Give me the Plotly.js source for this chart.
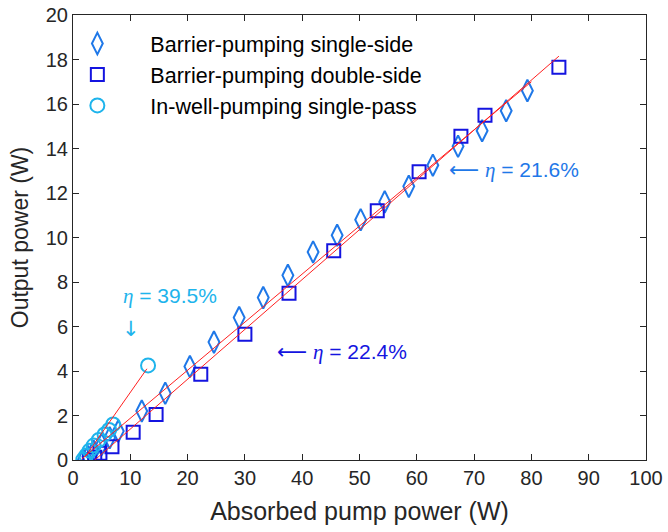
<!DOCTYPE html>
<html>
<head>
<meta charset="utf-8">
<script src="https://cdn.plot.ly/plotly-3.0.1.min.js"></script>
<style>html,body{margin:0;padding:0;background:#fff;}#chart{width:668px;height:532px;}</style>
</head>
<body>
<div id="chart"></div>
<script>
// Barrier-pumping single-side (diamonds)
const singleX = [1.8, 2.6, 3.6, 5.0, 6.4, 7.9, 12.0, 16.1, 20.4, 24.6, 29.0, 33.2, 37.5, 41.9, 46.1, 50.2, 54.4, 58.6, 62.8, 67.2, 71.4, 75.6, 79.3];
const singleY = [0.0, 0.15, 0.4, 0.7, 1.0, 1.3, 2.2, 3.0, 4.2, 5.3, 6.4, 7.3, 8.3, 9.35, 10.1, 10.8, 11.6, 12.3, 13.25, 14.1, 14.8, 15.7, 16.6];
// Barrier-pumping double-side (squares)
const doubleX = [2.9, 3.8, 4.7, 6.8, 10.5, 14.5, 22.3, 30.0, 37.7, 45.5, 53.1, 60.4, 67.7, 71.9, 84.8];
const doubleY = [0.02, 0.12, 0.3, 0.6, 1.25, 2.05, 3.85, 5.65, 7.5, 9.4, 11.2, 12.95, 14.55, 15.5, 17.65];
// In-well-pumping single-pass (circles)
const inwellX = [1.8, 2.3, 2.9, 3.6, 4.5, 5.5, 6.3, 7.0, 13.1];
const inwellY = [0.02, 0.2, 0.42, 0.65, 0.9, 1.15, 1.35, 1.6, 4.25];
// Linear fit lines (endpoints)
const fitSingleX = [1.5, 80.0];
const fitSingleY = [0.04, 17.0];
const fitDoubleX = [3.8, 84.8];
const fitDoubleY = [0.0, 18.15];
const fitInwellX = [2.1, 12.9];
const fitInwellY = [0.14, 4.1];

const names = ['Barrier-pumping single-side', 'Barrier-pumping double-side', 'In-well-pumping single-pass'];
const etaLabels = ['21.6%', '22.4%', '39.5%'];
const cDiamond = '#1f78e8';
const cSquare = '#1414e0';
const cCircle = '#1eb4ec';
const font = 'Liberation Sans, Arial, Helvetica, sans-serif';
const arrowL = '<span style="font-family:DejaVu Sans">⟵</span>';
const etaTxt = '<span style="font-family:Liberation Serif"><i>η</i></span>';

function fitTrace(x, y) {
  return {x: x, y: y, mode: 'lines', line: {color: '#ff2020', width: 1}, showlegend: false, hoverinfo: 'skip'};
}

const data = [
  {x: singleX, y: singleY, mode: 'markers', name: names[0],
   marker: {symbol: 'diamond-tall-open', size: 15.5, color: cDiamond, line: {width: 2, color: cDiamond}}},
  {x: doubleX, y: doubleY, mode: 'markers', name: names[1],
   marker: {symbol: 'square-open', size: 13, color: cSquare, line: {width: 2, color: cSquare}}},
  {x: inwellX, y: inwellY, mode: 'markers', name: names[2],
   marker: {symbol: 'circle-open', size: 14, color: cCircle, line: {width: 2, color: cCircle}}},
  fitTrace(fitSingleX, fitSingleY),
  fitTrace(fitDoubleX, fitDoubleY),
  fitTrace(fitInwellX, fitInwellY)
];

const axisCommon = {
  showgrid: false, zeroline: false, showline: true, linecolor: '#262626', linewidth: 1,
  mirror: 'ticks', ticks: 'inside', ticklen: 6, tickcolor: '#262626',
  tickfont: {family: font, size: 20, color: '#262626'}
};

const layout = {
  width: 668, height: 532,
  margin: {l: 73, r: 22, t: 15, b: 72},
  paper_bgcolor: '#fff', plot_bgcolor: '#fff',
  font: {family: font},
  xaxis: Object.assign({}, axisCommon, {range: [0, 100], dtick: 10, tick0: 0,
    title: {text: 'Absorbed pump power (W)', font: {family: font, size: 25, color: '#262626'}, standoff: 14}}),
  yaxis: Object.assign({}, axisCommon, {range: [0, 20], dtick: 2, tick0: 0,
    title: {text: 'Output power (W)', font: {family: font, size: 23, color: '#262626'}, standoff: 10}}),
  legend: {x: -0.05, y: 0.982, xanchor: 'left', yanchor: 'top', bgcolor: 'rgba(0,0,0,0)', borderwidth: 0,
    font: {family: font, size: 21.5, color: '#000'}, itemwidth: 96, tracegroupgap: 0},
  showlegend: true,
  annotations: [
    {x: 65.3, y: 13.03, xref: 'x', yref: 'y', text: arrowL + ' ' + etaTxt + ' = ' + etaLabels[0], showarrow: false, xanchor: 'left', yanchor: 'middle',
     font: {family: font, size: 21, color: cDiamond}},
    {x: 35.3, y: 4.85, xref: 'x', yref: 'y', text: arrowL + ' ' + etaTxt + ' = ' + etaLabels[1], showarrow: false, xanchor: 'left', yanchor: 'middle',
     font: {family: font, size: 21, color: cSquare}},
    {x: 8.4, y: 7.37, xref: 'x', yref: 'y', text: etaTxt + ' = ' + etaLabels[2], showarrow: false, xanchor: 'left', yanchor: 'middle',
     font: {family: font, size: 21, color: cCircle}},
    {x: 10.1, y: 5.9, xref: 'x', yref: 'y', text: '<span style="font-family:DejaVu Sans">↓</span>', showarrow: false, xanchor: 'center', yanchor: 'middle',
     font: {family: font, size: 21, color: cCircle}}
  ]
};

Plotly.newPlot('chart', data, layout, {displayModeBar: false, staticPlot: true});
</script>
</body>
</html>
